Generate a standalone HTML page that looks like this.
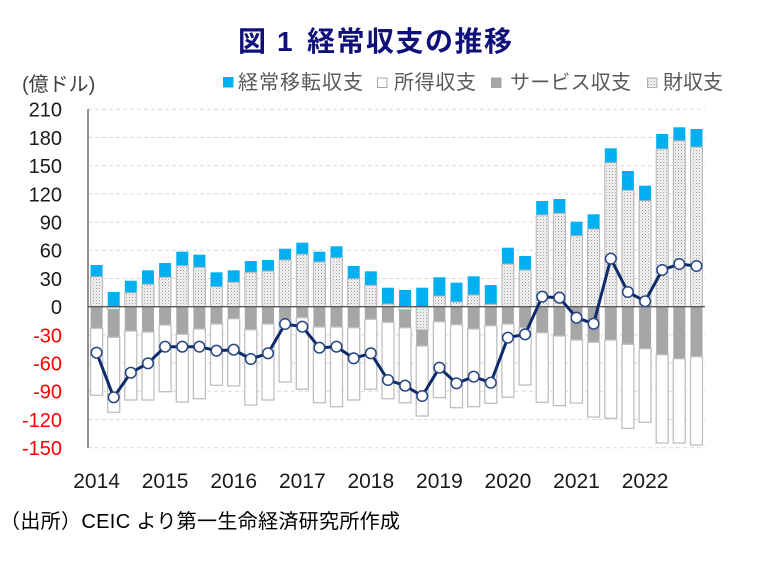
<!DOCTYPE html>
<html><head><meta charset="utf-8"><style>
html,body{margin:0;padding:0;background:#fff;}
svg{display:block;}
text{font-family:"Liberation Sans","Noto Sans CJK JP",sans-serif;}
</style></head><body>
<svg width="760" height="572" viewBox="0 0 760 572" xmlns="http://www.w3.org/2000/svg">
<defs>
<pattern id="dots" width="3" height="3" patternUnits="userSpaceOnUse"><rect width="3" height="3" fill="#f3f3f3"/><rect width="1" height="1" fill="#9c9c9c"/><rect x="1.5" y="1.5" width="1" height="1" fill="#c4c4c4"/></pattern>
</defs>
<!-- Title -->
<text x="238" y="51" font-size="28" font-weight="bold" fill="#10107a" style="font-family:'Noto Sans CJK JP',sans-serif">図</text>
<text x="277" y="51" font-size="28" font-weight="bold" fill="#10107a">1</text>
<text x="307" y="51" font-size="28" font-weight="bold" fill="#10107a" textLength="205" lengthAdjust="spacing" style="font-family:'Noto Sans CJK JP',sans-serif">経常収支の推移</text>
<!-- unit -->
<text x="22" y="91" font-size="20" fill="#404040">(億ドル)</text>
<!-- legend -->
<rect x="223" y="77" width="10.5" height="10.5" fill="#00b0f0"/>
<text x="238" y="89" font-size="20" fill="#595959" textLength="125" lengthAdjust="spacing">経常移転収支</text>
<rect x="377.5" y="78" width="9.5" height="9.5" fill="#fff" stroke="#a6a6a6" stroke-width="1"/>
<text x="394" y="89" font-size="20" fill="#595959" textLength="82" lengthAdjust="spacing">所得収支</text>
<rect x="491" y="77.5" width="10.5" height="10.5" fill="#a6a6a6"/>
<text x="510" y="89" font-size="20" fill="#595959" textLength="121" lengthAdjust="spacing">サービス収支</text>
<rect x="647.5" y="78" width="9.5" height="9.5" fill="url(#dots)" stroke="#b0b0b0" stroke-width="1"/>
<text x="663" y="89" font-size="20" fill="#595959" textLength="60" lengthAdjust="spacing">財収支</text>

<!-- gridlines -->
<g stroke="#d9d9d9" stroke-width="1" stroke-dasharray="4,3">
<line x1="88" x2="705" y1="109.3" y2="109.3"/>
<line x1="88" x2="705" y1="137.5" y2="137.5"/>
<line x1="88" x2="705" y1="165.7" y2="165.7"/>
<line x1="88" x2="705" y1="193.9" y2="193.9"/>
<line x1="88" x2="705" y1="222.1" y2="222.1"/>
<line x1="88" x2="705" y1="250.3" y2="250.3"/>
<line x1="88" x2="705" y1="278.5" y2="278.5"/>
<line x1="88" x2="705" y1="334.9" y2="334.9"/>
<line x1="88" x2="705" y1="363.1" y2="363.1"/>
<line x1="88" x2="705" y1="391.3" y2="391.3"/>
<line x1="88" x2="705" y1="419.5" y2="419.5"/>
<line x1="88" x2="705" y1="447.7" y2="447.7"/>
</g>

<!-- y labels -->
<g font-size="20" text-anchor="end">
<text x="62" y="116.7" fill="#1a1a1a">210</text>
<text x="62" y="144.9" fill="#1a1a1a">180</text>
<text x="62" y="173.1" fill="#1a1a1a">150</text>
<text x="62" y="201.3" fill="#1a1a1a">120</text>
<text x="62" y="229.5" fill="#1a1a1a">90</text>
<text x="62" y="257.7" fill="#1a1a1a">60</text>
<text x="62" y="285.9" fill="#1a1a1a">30</text>
<text x="62" y="314.1" fill="#1a1a1a">0</text>
<text x="62" y="342.3" fill="#ff0000">-30</text>
<text x="62" y="370.5" fill="#ff0000">-60</text>
<text x="62" y="398.7" fill="#ff0000">-90</text>
<text x="62" y="426.9" fill="#ff0000">-120</text>
<text x="62" y="455.1" fill="#ff0000">-150</text>
</g>

<!-- blue bars (経常移転収支) -->
<g fill="#00b0f0">
<rect x="90.6" y="265" width="12" height="11.7"/>
<rect x="107.7" y="292" width="12" height="14.7"/>
<rect x="124.8" y="280.7" width="12" height="12"/>
<rect x="142.0" y="270.3" width="12" height="14"/>
<rect x="159.1" y="263" width="12" height="14.3"/>
<rect x="176.3" y="251.7" width="12" height="14"/>
<rect x="193.4" y="254.7" width="12" height="12.6"/>
<rect x="210.5" y="272.3" width="12" height="14.4"/>
<rect x="227.7" y="270.3" width="12" height="12"/>
<rect x="244.8" y="261" width="12" height="11.3"/>
<rect x="262.0" y="260" width="12" height="11"/>
<rect x="279.1" y="248.7" width="12" height="11.3"/>
<rect x="296.3" y="242.7" width="12" height="11.6"/>
<rect x="313.4" y="251.7" width="12" height="10.3"/>
<rect x="330.5" y="246.3" width="12" height="11.4"/>
<rect x="347.7" y="266" width="12" height="12.7"/>
<rect x="364.8" y="271.3" width="12" height="14"/>
<rect x="382.0" y="287.7" width="12" height="16.3"/>
<rect x="399.1" y="290" width="12" height="16.7"/>
<rect x="416.2" y="287.7" width="12" height="19"/>
<rect x="433.4" y="277.3" width="12" height="18.7"/>
<rect x="450.5" y="282.7" width="12" height="19.3"/>
<rect x="467.7" y="276.3" width="12" height="18.7"/>
<rect x="484.8" y="285" width="12" height="19.3"/>
<rect x="501.9" y="247.7" width="12" height="16.3"/>
<rect x="519.1" y="256" width="12" height="14"/>
<rect x="536.2" y="201" width="12" height="14"/>
<rect x="553.4" y="199" width="12" height="14.3"/>
<rect x="570.5" y="221.7" width="12" height="14"/>
<rect x="587.6" y="214.3" width="12" height="14.7"/>
<rect x="604.8" y="148.3" width="12" height="14.4"/>
<rect x="621.9" y="171" width="12" height="19.3"/>
<rect x="639.1" y="185.7" width="12" height="15"/>
<rect x="656.2" y="134" width="12" height="15"/>
<rect x="673.3" y="127.3" width="12" height="13.4"/>
<rect x="690.5" y="129" width="12" height="18"/>
</g>

<!-- goods bars (財収支) -->
<g fill="url(#dots)" stroke="#b3b3b3" stroke-width="1">
<rect x="90.6" y="276.7" width="12" height="30"/>
<rect x="107.7" y="306.7" width="12" height="2.8"/>
<rect x="124.8" y="292.7" width="12" height="14"/>
<rect x="142.0" y="284.3" width="12" height="22.4"/>
<rect x="159.1" y="277.3" width="12" height="29.4"/>
<rect x="176.3" y="265.7" width="12" height="41"/>
<rect x="193.4" y="267.3" width="12" height="39.4"/>
<rect x="210.5" y="286.7" width="12" height="20"/>
<rect x="227.7" y="282.3" width="12" height="24.4"/>
<rect x="244.8" y="272.3" width="12" height="34.4"/>
<rect x="262.0" y="271" width="12" height="35.7"/>
<rect x="279.1" y="260" width="12" height="46.7"/>
<rect x="296.3" y="254.3" width="12" height="52.4"/>
<rect x="313.4" y="262" width="12" height="44.7"/>
<rect x="330.5" y="257.7" width="12" height="49"/>
<rect x="347.7" y="278.7" width="12" height="28"/>
<rect x="364.8" y="285.3" width="12" height="21.4"/>
<rect x="382.0" y="304" width="12" height="2.7"/>
<rect x="399.1" y="306.7" width="12" height="3.3"/>
<rect x="416.2" y="306.7" width="12" height="23.3"/>
<rect x="433.4" y="296" width="12" height="10.7"/>
<rect x="450.5" y="302" width="12" height="4.7"/>
<rect x="467.7" y="295" width="12" height="11.7"/>
<rect x="484.8" y="304.3" width="12" height="2.4"/>
<rect x="501.9" y="264" width="12" height="42.7"/>
<rect x="519.1" y="270" width="12" height="36.7"/>
<rect x="536.2" y="215" width="12" height="91.7"/>
<rect x="553.4" y="213.3" width="12" height="93.4"/>
<rect x="570.5" y="235.7" width="12" height="71"/>
<rect x="587.6" y="229" width="12" height="77.7"/>
<rect x="604.8" y="162.7" width="12" height="144"/>
<rect x="621.9" y="190.3" width="12" height="116.4"/>
<rect x="639.1" y="200.7" width="12" height="106"/>
<rect x="656.2" y="149" width="12" height="157.7"/>
<rect x="673.3" y="140.7" width="12" height="166"/>
<rect x="690.5" y="147" width="12" height="159.7"/>
</g>

<!-- services bars (サービス収支) -->
<g fill="#a6a6a6">
<rect x="90.6" y="306.7" width="12" height="21.6"/>
<rect x="107.7" y="309.5" width="12" height="27.8"/>
<rect x="124.8" y="306.7" width="12" height="24.3"/>
<rect x="142.0" y="306.7" width="12" height="25.3"/>
<rect x="159.1" y="306.7" width="12" height="18.3"/>
<rect x="176.3" y="306.7" width="12" height="27.6"/>
<rect x="193.4" y="306.7" width="12" height="22.3"/>
<rect x="210.5" y="306.7" width="12" height="17.3"/>
<rect x="227.7" y="306.7" width="12" height="12"/>
<rect x="244.8" y="306.7" width="12" height="23"/>
<rect x="262.0" y="306.7" width="12" height="17.3"/>
<rect x="279.1" y="306.7" width="12" height="12.6"/>
<rect x="296.3" y="306.7" width="12" height="11"/>
<rect x="313.4" y="306.7" width="12" height="20.3"/>
<rect x="330.5" y="306.7" width="12" height="20.3"/>
<rect x="347.7" y="306.7" width="12" height="21"/>
<rect x="364.8" y="306.7" width="12" height="12.6"/>
<rect x="382.0" y="306.7" width="12" height="15.6"/>
<rect x="399.1" y="310" width="12" height="17.7"/>
<rect x="416.2" y="330" width="12" height="16"/>
<rect x="433.4" y="306.7" width="12" height="15"/>
<rect x="450.5" y="306.7" width="12" height="18"/>
<rect x="467.7" y="306.7" width="12" height="22.3"/>
<rect x="484.8" y="306.7" width="12" height="19"/>
<rect x="501.9" y="306.7" width="12" height="17.3"/>
<rect x="519.1" y="306.7" width="12" height="21"/>
<rect x="536.2" y="306.7" width="12" height="26"/>
<rect x="553.4" y="306.7" width="12" height="29.3"/>
<rect x="570.5" y="306.7" width="12" height="33.3"/>
<rect x="587.6" y="306.7" width="12" height="35.6"/>
<rect x="604.8" y="306.7" width="12" height="33.3"/>
<rect x="621.9" y="306.7" width="12" height="37.6"/>
<rect x="639.1" y="306.7" width="12" height="42"/>
<rect x="656.2" y="306.7" width="12" height="48"/>
<rect x="673.3" y="306.7" width="12" height="52"/>
<rect x="690.5" y="306.7" width="12" height="50"/>
</g>

<!-- income bars (所得収支) -->
<g fill="#ffffff" stroke="#bfbfbf" stroke-width="1.3">
<rect x="90.6" y="328.3" width="12" height="67"/>
<rect x="107.7" y="337.3" width="12" height="75"/>
<rect x="124.8" y="331" width="12" height="69"/>
<rect x="142.0" y="332" width="12" height="68"/>
<rect x="159.1" y="325" width="12" height="66.7"/>
<rect x="176.3" y="334.3" width="12" height="67.7"/>
<rect x="193.4" y="329" width="12" height="69.7"/>
<rect x="210.5" y="324" width="12" height="61.3"/>
<rect x="227.7" y="318.7" width="12" height="67.3"/>
<rect x="244.8" y="329.7" width="12" height="75.3"/>
<rect x="262.0" y="324" width="12" height="76"/>
<rect x="279.1" y="319.3" width="12" height="62.7"/>
<rect x="296.3" y="317.7" width="12" height="71.6"/>
<rect x="313.4" y="327" width="12" height="75.7"/>
<rect x="330.5" y="327" width="12" height="79.7"/>
<rect x="347.7" y="327.7" width="12" height="72.3"/>
<rect x="364.8" y="319.3" width="12" height="70"/>
<rect x="382.0" y="322.3" width="12" height="76.4"/>
<rect x="399.1" y="327.7" width="12" height="75"/>
<rect x="416.2" y="346" width="12" height="70"/>
<rect x="433.4" y="321.7" width="12" height="76"/>
<rect x="450.5" y="324.7" width="12" height="83"/>
<rect x="467.7" y="329" width="12" height="77.7"/>
<rect x="484.8" y="325.7" width="12" height="77.6"/>
<rect x="501.9" y="324" width="12" height="73.3"/>
<rect x="519.1" y="327.7" width="12" height="57.3"/>
<rect x="536.2" y="332.7" width="12" height="69.6"/>
<rect x="553.4" y="336" width="12" height="69.7"/>
<rect x="570.5" y="340" width="12" height="63"/>
<rect x="587.6" y="342.3" width="12" height="74.7"/>
<rect x="604.8" y="340" width="12" height="78.3"/>
<rect x="621.9" y="344.3" width="12" height="84"/>
<rect x="639.1" y="348.7" width="12" height="73.6"/>
<rect x="656.2" y="354.7" width="12" height="88.3"/>
<rect x="673.3" y="358.7" width="12" height="84.3"/>
<rect x="690.5" y="356.7" width="12" height="88.3"/>
</g>

<!-- axes -->
<line x1="88" x2="705" y1="306.7" y2="306.7" stroke="#595959" stroke-width="1.3"/>
<line x1="88" x2="88" y1="109" y2="448" stroke="#595959" stroke-width="1.3"/>

<!-- current account line -->
<polyline fill="none" stroke="#0d2b6b" stroke-width="3" stroke-linejoin="round" points="96.6,352.7 113.7,397.3 130.8,372.7 148.0,363.3 165.1,346.7 182.3,346.7 199.4,346.7 216.5,350.7 233.7,349.7 250.8,359 268.0,353.3 285.1,324 302.3,326.7 319.4,347.7 336.5,346.7 353.7,358.3 370.8,353.3 388.0,380 405.1,385.7 422.2,396 439.4,367.7 456.5,383.3 473.7,376.7 490.8,382.7 507.9,337.7 525.1,334.3 542.2,296.7 559.4,297.7 576.5,317.7 593.6,323.7 610.8,258.7 627.9,292 645.1,301.3 662.2,270 679.3,264 696.5,266"/>
<g fill="#ffffff" stroke="#2a4585" stroke-width="1.5">
<circle cx="96.6" cy="352.7" r="5.3"/><circle cx="113.7" cy="397.3" r="5.3"/><circle cx="130.8" cy="372.7" r="5.3"/><circle cx="148.0" cy="363.3" r="5.3"/><circle cx="165.1" cy="346.7" r="5.3"/><circle cx="182.3" cy="346.7" r="5.3"/><circle cx="199.4" cy="346.7" r="5.3"/><circle cx="216.5" cy="350.7" r="5.3"/><circle cx="233.7" cy="349.7" r="5.3"/><circle cx="250.8" cy="359" r="5.3"/><circle cx="268.0" cy="353.3" r="5.3"/><circle cx="285.1" cy="324" r="5.3"/><circle cx="302.3" cy="326.7" r="5.3"/><circle cx="319.4" cy="347.7" r="5.3"/><circle cx="336.5" cy="346.7" r="5.3"/><circle cx="353.7" cy="358.3" r="5.3"/><circle cx="370.8" cy="353.3" r="5.3"/><circle cx="388.0" cy="380" r="5.3"/><circle cx="405.1" cy="385.7" r="5.3"/><circle cx="422.2" cy="396" r="5.3"/><circle cx="439.4" cy="367.7" r="5.3"/><circle cx="456.5" cy="383.3" r="5.3"/><circle cx="473.7" cy="376.7" r="5.3"/><circle cx="490.8" cy="382.7" r="5.3"/><circle cx="507.9" cy="337.7" r="5.3"/><circle cx="525.1" cy="334.3" r="5.3"/><circle cx="542.2" cy="296.7" r="5.3"/><circle cx="559.4" cy="297.7" r="5.3"/><circle cx="576.5" cy="317.7" r="5.3"/><circle cx="593.6" cy="323.7" r="5.3"/><circle cx="610.8" cy="258.7" r="5.3"/><circle cx="627.9" cy="292" r="5.3"/><circle cx="645.1" cy="301.3" r="5.3"/><circle cx="662.2" cy="270" r="5.3"/><circle cx="679.3" cy="264" r="5.3"/><circle cx="696.5" cy="266" r="5.3"/>
</g>

<!-- x labels -->
<g font-size="21" text-anchor="middle" fill="#1a1a1a">
<text x="96.6" y="488">2014</text>
<text x="165.1" y="488">2015</text>
<text x="233.7" y="488">2016</text>
<text x="302.3" y="488">2017</text>
<text x="370.8" y="488">2018</text>
<text x="439.4" y="488">2019</text>
<text x="507.9" y="488">2020</text>
<text x="576.5" y="488">2021</text>
<text x="645.1" y="488">2022</text>
</g>

<!-- source -->
<text x="0" y="528" font-size="20" fill="#000" textLength="400" lengthAdjust="spacing">（出所）CEIC より第一生命経済研究所作成</text>
</svg>
</body></html>
